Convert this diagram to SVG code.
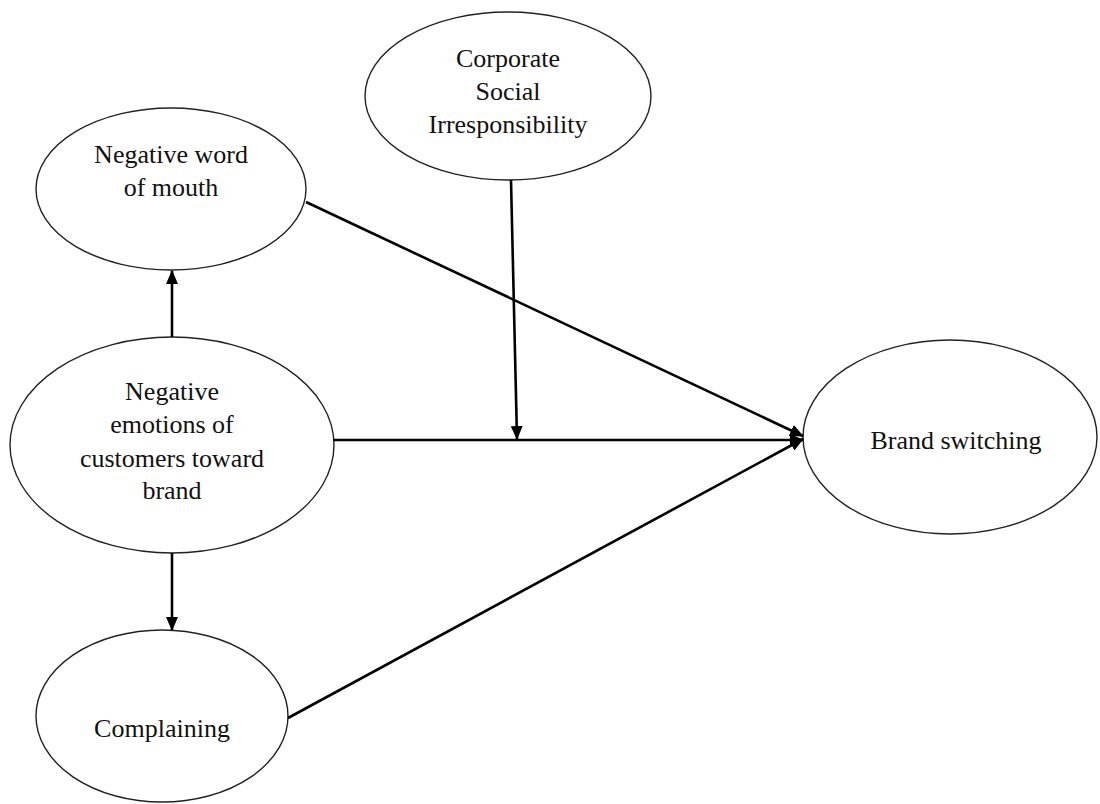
<svg xmlns="http://www.w3.org/2000/svg" width="1100" height="804" viewBox="0 0 1100 804">
<style>
.node ellipse{fill:#fff;stroke:#222;stroke-width:1.4}
.node text{font-family:"Liberation Serif","Times New Roman",serif;font-size:26px;fill:#111;text-anchor:middle}
.edge{stroke:#000;stroke-width:2.6;fill:none;marker-end:url(#arr)}
</style>
<defs>
<marker id="arr" markerUnits="userSpaceOnUse" markerWidth="14" markerHeight="12" refX="13" refY="6" orient="auto">
<path d="M0,0 L14,6 L0,12 z" fill="#000"/>
</marker>
</defs>
<rect width="1100" height="804" fill="#fff"/>
<g id="csi" class="node">
<ellipse cx="508" cy="96" rx="143" ry="84"/>
<text x="508" y="67">Corporate</text>
<text x="508" y="100">Social</text>
<text x="508" y="133">Irresponsibility</text>
</g>
<g id="nwom" class="node">
<ellipse cx="171" cy="189" rx="135" ry="81"/>
<text x="171" y="163">Negative word</text>
<text x="171" y="196">of mouth</text>
</g>
<g id="emotions" class="node">
<ellipse cx="172" cy="445" rx="162" ry="108"/>
<text x="172" y="400">Negative</text>
<text x="172" y="433">emotions of</text>
<text x="172" y="467">customers toward</text>
<text x="172" y="499">brand</text>
</g>
<g id="complaining" class="node">
<ellipse cx="162" cy="716" rx="126" ry="86"/>
<text x="162" y="737">Complaining</text>
</g>
<g id="switching" class="node">
<ellipse cx="950" cy="437" rx="147" ry="97"/>
<text x="956" y="449">Brand switching</text>
</g>
<g id="connectors">
<line class="edge" x1="172" y1="337" x2="172" y2="271"/>
<line class="edge" x1="172" y1="553" x2="172" y2="630"/>
<line class="edge" x1="333" y1="440" x2="803" y2="440"/>
<line class="edge" x1="306" y1="202" x2="803" y2="436"/>
<line class="edge" x1="288" y1="718" x2="803" y2="439"/>
<line class="edge" x1="511" y1="180" x2="517" y2="439"/>
</g>
</svg>
